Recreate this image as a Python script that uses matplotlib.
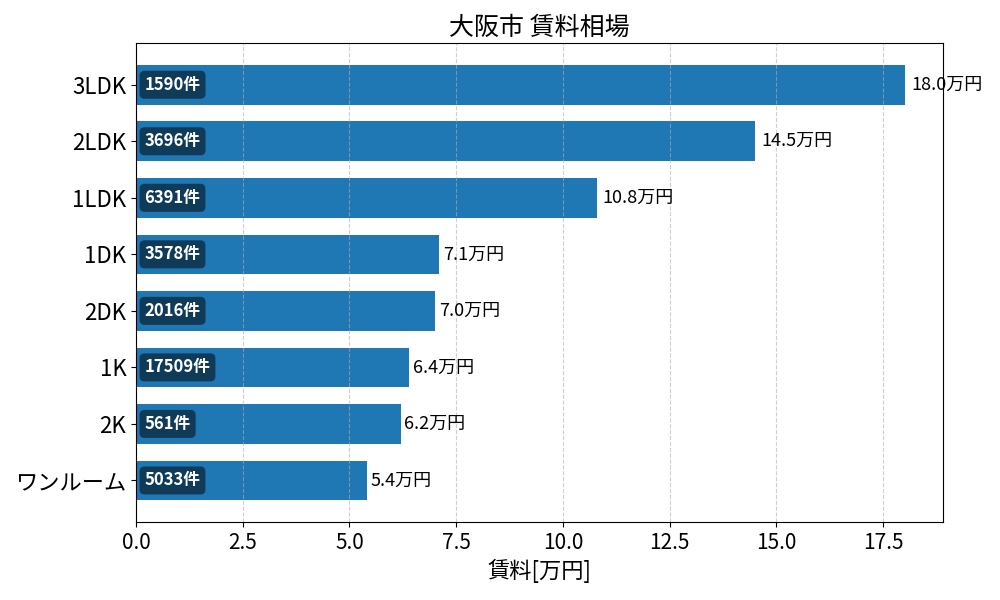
import numpy as np
import matplotlib
matplotlib.use('Agg')
import matplotlib.pyplot as plt

plt.rcParams['font.family'] = ['Noto Sans CJK JP', 'DejaVu Sans']

# data (bottom to top)
layouts = ['ワンルーム', '2K', '1K', '2DK', '1DK', '1LDK', '2LDK', '3LDK']
rents = [5.4, 6.2, 6.4, 7.0, 7.1, 10.8, 14.5, 18.0]
counts = [5033, 561, 17509, 2016, 3578, 6391, 3696, 1590]

fig, ax = plt.subplots(figsize=(10, 6), dpi=100)
y = np.arange(len(layouts))
bars = ax.barh(y, rents, height=0.7, color='#1f77b4')
ax.set_yticks(y)
ax.set_yticklabels(layouts, fontsize=16)
ax.tick_params(axis='x', labelsize=15)
ax.set_xlim(0, max(rents) * 1.05)
ax.grid(axis='x', linestyle='--', alpha=0.6)

for yi, r, c in zip(y, rents, counts):
    ax.text(r + 0.05 + r * 0.006, yi, f'{r:.1f}万円', va='center', ha='left', fontsize=13)
    ax.text(0.2, yi, f'{c}件', va='center', ha='left', fontsize=12,
            color='white', fontweight='bold',
            bbox=dict(boxstyle='round,pad=0.3', facecolor='black', alpha=0.5, edgecolor='none'))

ax.set_xlabel('賃料[万円]', fontsize=16)
ax.set_title('大阪市 賃料相場', fontsize=18)
fig.subplots_adjust(left=0.136, right=0.943, top=0.928, bottom=0.13)
plt.savefig('out.png')
